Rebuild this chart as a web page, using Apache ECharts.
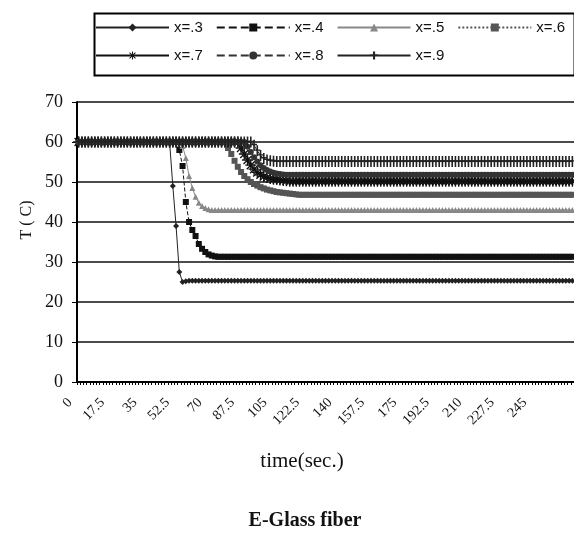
<!DOCTYPE html>
<html>
<head>
<meta charset="utf-8">
<script src="https://cdn.jsdelivr.net/npm/echarts@6/dist/echarts.min.js"></script>
<style>html,body{margin:0;padding:0;background:#fff}#c{width:574px;height:535px}</style>
</head>
<body>
<div id="c"></div>
<script>
// time (sec.) categories
var times = [
0,1.75,3.5,5.25,7,8.75,10.5,12.25,14,15.75,
17.5,19.25,21,22.75,24.5,26.25,28,29.75,31.5,33.25,
35,36.75,38.5,40.25,42,43.75,45.5,47.25,49,50.75,
52.5,54.25,56,57.75,59.5,61.25,63,64.75,66.5,68.25,
70,71.75,73.5,75.25,77,78.75,80.5,82.25,84,85.75,
87.5,89.25,91,92.75,94.5,96.25,98,99.75,101.5,103.25,
105,106.75,108.5,110.25,112,113.75,115.5,117.25,119,120.75,
122.5,124.25,126,127.75,129.5,131.25,133,134.75,136.5,138.25,
140,141.75,143.5,145.25,147,148.75,150.5,152.25,154,155.75,
157.5,159.25,161,162.75,164.5,166.25,168,169.75,171.5,173.25,
175,176.75,178.5,180.25,182,183.75,185.5,187.25,189,190.75,
192.5,194.25,196,197.75,199.5,201.25,203,204.75,206.5,208.25,
210,211.75,213.5,215.25,217,218.75,220.5,222.25,224,225.75,
227.5,229.25,231,232.75,234.5,236.25,238,239.75,241.5,243.25,
245,246.75,248.5,250.25,252,253.75,255.5,257.25,259,260.75,
262.5,264.25,266
];
var yTicks = [0,10,20,30,40,50,60,70];
var seriesNames = ['x=.3','x=.4','x=.5','x=.6','x=.7','x=.8','x=.9'];

var t03 = [
60,60,60,60,60,60,60,60,60,60,
60,60,60,60,60,60,60,60,60,60,
60,60,60,60,60,60,60,60,60,49,
39,27.5,25,25.2,25.3,25.3,25.3,25.3,25.3,25.3,
25.3,25.3,25.3,25.3,25.3,25.3,25.3,25.3,25.3,25.3,
25.3,25.3,25.3,25.3,25.3,25.3,25.3,25.3,25.3,25.3,
25.3,25.3,25.3,25.3,25.3,25.3,25.3,25.3,25.3,25.3,
25.3,25.3,25.3,25.3,25.3,25.3,25.3,25.3,25.3,25.3,
25.3,25.3,25.3,25.3,25.3,25.3,25.3,25.3,25.3,25.3,
25.3,25.3,25.3,25.3,25.3,25.3,25.3,25.3,25.3,25.3,
25.3,25.3,25.3,25.3,25.3,25.3,25.3,25.3,25.3,25.3,
25.3,25.3,25.3,25.3,25.3,25.3,25.3,25.3,25.3,25.3,
25.3,25.3,25.3,25.3,25.3,25.3,25.3,25.3,25.3,25.3,
25.3,25.3,25.3,25.3,25.3,25.3,25.3,25.3,25.3,25.3,
25.3,25.3,25.3,25.3,25.3,25.3,25.3,25.3,25.3,25.3,
25.3,25.3,25.3
];
var t04 = [
60,60,60,60,60,60,60,60,60,60,
60,60,60,60,60,60,60,60,60,60,
60,60,60,60,60,60,60,60,60,60,
60,58,54,45,40,38,36.5,34.5,33.3,32.5,
31.9,31.6,31.4,31.3,31.3,31.3,31.3,31.3,31.3,31.3,
31.3,31.3,31.3,31.3,31.3,31.3,31.3,31.3,31.3,31.3,
31.3,31.3,31.3,31.3,31.3,31.3,31.3,31.3,31.3,31.3,
31.3,31.3,31.3,31.3,31.3,31.3,31.3,31.3,31.3,31.3,
31.3,31.3,31.3,31.3,31.3,31.3,31.3,31.3,31.3,31.3,
31.3,31.3,31.3,31.3,31.3,31.3,31.3,31.3,31.3,31.3,
31.3,31.3,31.3,31.3,31.3,31.3,31.3,31.3,31.3,31.3,
31.3,31.3,31.3,31.3,31.3,31.3,31.3,31.3,31.3,31.3,
31.3,31.3,31.3,31.3,31.3,31.3,31.3,31.3,31.3,31.3,
31.3,31.3,31.3,31.3,31.3,31.3,31.3,31.3,31.3,31.3,
31.3,31.3,31.3,31.3,31.3,31.3,31.3,31.3,31.3,31.3,
31.3,31.3,31.3
];
var t05 = [
60,60,60,60,60,60,60,60,60,60,
60,60,60,60,60,60,60,60,60,60,
60,60,60,60,60,60,60,60,60,60,
60,60,59,56,51.5,48.5,46.3,44.8,44,43.5,
43.2,43,43,43,43,43,43,43,43,43,
43,43,43,43,43,43,43,43,43,43,
43,43,43,43,43,43,43,43,43,43,
43,43,43,43,43,43,43,43,43,43,
43,43,43,43,43,43,43,43,43,43,
43,43,43,43,43,43,43,43,43,43,
43,43,43,43,43,43,43,43,43,43,
43,43,43,43,43,43,43,43,43,43,
43,43,43,43,43,43,43,43,43,43,
43,43,43,43,43,43,43,43,43,43,
43,43,43,43,43,43,43,43,43,43,
43,43,43
];
var t06 = [
60,60,60,60,60,60,60,60,60,60,
60,60,60,60,60,60,60,60,60,60,
60,60,60,60,60,60,60,60,60,60,
60,60,60,60,60,60,60,60,60,60,
60,60,60,60,60,60,58.5,57,55.3,53.8,
52.5,51.5,50.7,50,49.5,49.1,48.7,48.4,48.1,47.9,
47.7,47.5,47.4,47.3,47.2,47.1,47,46.9,46.8,46.8,
46.8,46.8,46.8,46.8,46.8,46.8,46.8,46.8,46.8,46.8,
46.8,46.8,46.8,46.8,46.8,46.8,46.8,46.8,46.8,46.8,
46.8,46.8,46.8,46.8,46.8,46.8,46.8,46.8,46.8,46.8,
46.8,46.8,46.8,46.8,46.8,46.8,46.8,46.8,46.8,46.8,
46.8,46.8,46.8,46.8,46.8,46.8,46.8,46.8,46.8,46.8,
46.8,46.8,46.8,46.8,46.8,46.8,46.8,46.8,46.8,46.8,
46.8,46.8,46.8,46.8,46.8,46.8,46.8,46.8,46.8,46.8,
46.8,46.8,46.8,46.8,46.8,46.8,46.8,46.8,46.8,46.8,
46.8,46.8,46.8
];
var t07 = [
60,60,60,60,60,60,60,60,60,60,
60,60,60,60,60,60,60,60,60,60,
60,60,60,60,60,60,60,60,60,60,
60,60,60,60,60,60,60,60,60,60,
60,60,60,60,60,60,60,60,60,60,
58.5,57,55.5,54.2,53.2,52.4,51.8,51.4,51.1,50.9,
50.7,50.6,50.5,50.4,50.3,50.2,50.2,50.2,50.2,50.2,
50.2,50.2,50.2,50.2,50.2,50.2,50.2,50.2,50.2,50.2,
50.2,50.2,50.2,50.2,50.2,50.2,50.2,50.2,50.2,50.2,
50.2,50.2,50.2,50.2,50.2,50.2,50.2,50.2,50.2,50.2,
50.2,50.2,50.2,50.2,50.2,50.2,50.2,50.2,50.2,50.2,
50.2,50.2,50.2,50.2,50.2,50.2,50.2,50.2,50.2,50.2,
50.2,50.2,50.2,50.2,50.2,50.2,50.2,50.2,50.2,50.2,
50.2,50.2,50.2,50.2,50.2,50.2,50.2,50.2,50.2,50.2,
50.2,50.2,50.2,50.2,50.2,50.2,50.2,50.2,50.2,50.2,
50.2,50.2,50.2
];
var t08 = [
60,60,60,60,60,60,60,60,60,60,
60,60,60,60,60,60,60,60,60,60,
60,60,60,60,60,60,60,60,60,60,
60,60,60,60,60,60,60,60,60,60,
60,60,60,60,60,60,60,60,60,60,
60,60,58.8,57.5,56.2,55.1,54.2,53.5,53,52.6,
52.3,52.1,52,51.9,51.8,51.8,51.8,51.8,51.8,51.8,
51.8,51.8,51.8,51.8,51.8,51.8,51.8,51.8,51.8,51.8,
51.8,51.8,51.8,51.8,51.8,51.8,51.8,51.8,51.8,51.8,
51.8,51.8,51.8,51.8,51.8,51.8,51.8,51.8,51.8,51.8,
51.8,51.8,51.8,51.8,51.8,51.8,51.8,51.8,51.8,51.8,
51.8,51.8,51.8,51.8,51.8,51.8,51.8,51.8,51.8,51.8,
51.8,51.8,51.8,51.8,51.8,51.8,51.8,51.8,51.8,51.8,
51.8,51.8,51.8,51.8,51.8,51.8,51.8,51.8,51.8,51.8,
51.8,51.8,51.8,51.8,51.8,51.8,51.8,51.8,51.8,51.8,
51.8,51.8,51.8
];
var t09 = [
60,60,60,60,60,60,60,60,60,60,
60,60,60,60,60,60,60,60,60,60,
60,60,60,60,60,60,60,60,60,60,
60,60,60,60,60,60,60,60,60,60,
60,60,60,60,60,60,60,60,60,60,
60,60,60,60,59.2,57.8,56.6,55.9,55.5,55.3,
55.2,55.1,55.1,55.1,55.1,55.1,55.1,55.1,55.1,55.1,
55.1,55.1,55.1,55.1,55.1,55.1,55.1,55.1,55.1,55.1,
55.1,55.1,55.1,55.1,55.1,55.1,55.1,55.1,55.1,55.1,
55.1,55.1,55.1,55.1,55.1,55.1,55.1,55.1,55.1,55.1,
55.1,55.1,55.1,55.1,55.1,55.1,55.1,55.1,55.1,55.1,
55.1,55.1,55.1,55.1,55.1,55.1,55.1,55.1,55.1,55.1,
55.1,55.1,55.1,55.1,55.1,55.1,55.1,55.1,55.1,55.1,
55.1,55.1,55.1,55.1,55.1,55.1,55.1,55.1,55.1,55.1,
55.1,55.1,55.1,55.1,55.1,55.1,55.1,55.1,55.1,55.1,
55.1,55.1,55.1
];
var allData = [t03,t04,t05,t06,t07,t08,t09];

var asterisk = 'path://M8.8,0L11.2,0L11.2,20L8.8,20Z M0,8.8L20,8.8L20,11.2L0,11.2Z M1.8,3.5L3.5,1.8L18.2,16.5L16.5,18.2Z M16.5,1.8L18.2,3.5L3.5,18.2L1.8,16.5Z';
var vbar = 'path://M3.8,0L6.2,0L6.2,20L3.8,20Z M0.5,7.5L9.5,7.5L9.5,10L0.5,10Z';

var styles = [
  {color:'#222', type:'solid', symbol:'diamond', size:6},
  {color:'#111', type:'dashed', symbol:'rect', size:6},
  {color:'#888', type:'solid', symbol:'triangle', size:6},
  {color:'#555', type:'dotted', symbol:'rect', size:6},
  {color:'#111', type:'solid', symbol:asterisk, size:11},
  {color:'#333', type:'dashed', symbol:'circle', size:6},
  {color:'#222', type:'solid', symbol:vbar, size:[6,11]}
];

var series = seriesNames.map(function(n, k){
  var s = styles[k];
  return {
    name: n, type: 'line', data: allData[k],
    symbol: s.symbol, symbolSize: s.size, showSymbol: true, showAllSymbol: true,
    lineStyle: {color: s.color, width: 1, type: s.type},
    itemStyle: {color: s.color, borderWidth: 0},
    animation: false, z: 3 + k
  };
});

var serif = 'Liberation Serif';
var chart = echarts.init(document.getElementById('c'), null, {renderer:'canvas'});
chart.setOption({
  backgroundColor: '#fff',
  animation: false,
  grid: {left: 77, right: 0, top: 102, bottom: 153, containLabel: false},
  legend: {
    data: seriesNames, left: 90, top: 15, width: 476, orient: 'horizontal',
    itemWidth: 73, itemHeight: 10, itemGap: 13,
    textStyle: {fontFamily: 'Liberation Sans', fontSize: 15, color: '#111'},
    inactiveColor: '#111'
  },
  xAxis: {
    type: 'category', data: times, boundaryGap: true,
    axisLine: {show: true, lineStyle: {color: '#000', width: 2}},
    axisTick: {show: true, interval: 0, length: 3, lineStyle: {color: '#000', width: 1}},
    axisLabel: {
      interval: function(idx){ return idx % 10 === 0 && idx <= 140; },
      rotate: 45, margin: 10, padding: [0, 12, 0, 0],
      fontFamily: serif, fontSize: 14, color: '#111'
    },
    splitLine: {show: false}
  },
  yAxis: {
    type: 'value', min: yTicks[0], max: yTicks[yTicks.length-1], interval: 10,
    axisLine: {show: true, lineStyle: {color: '#000', width: 2}},
    axisTick: {show: true, length: 5, lineStyle: {color: '#000', width: 1}},
    axisLabel: {margin: 14, fontFamily: serif, fontSize: 18, color: '#111'},
    splitLine: {show: true, lineStyle: {color: '#111', width: 1.5}}
  },
  graphic: [
    {type: 'rect', left: 92, top: 11, shape: {width: 480, height: 62},
     style: {fill: 'none', stroke: '#000', lineWidth: 2}, z: 1},
    {type: 'text', x: 27, y: 220, rotation: Math.PI/2,
     style: {text: 'T ( C)', font: '16px "Liberation Serif"', fill: '#111', textAlign: 'center', textVerticalAlign: 'middle'}},
    {type: 'text', x: 302, y: 461,
     style: {text: 'time(sec.)', font: '21px "Liberation Serif"', fill: '#111', textAlign: 'center', textVerticalAlign: 'middle'}},
    {type: 'text', x: 305, y: 521,
     style: {text: 'E-Glass fiber', font: 'bold 20px "Liberation Serif"', fill: '#111', textAlign: 'center', textVerticalAlign: 'middle'}}
  ],
  series: series
});
</script>
</body>
</html>
